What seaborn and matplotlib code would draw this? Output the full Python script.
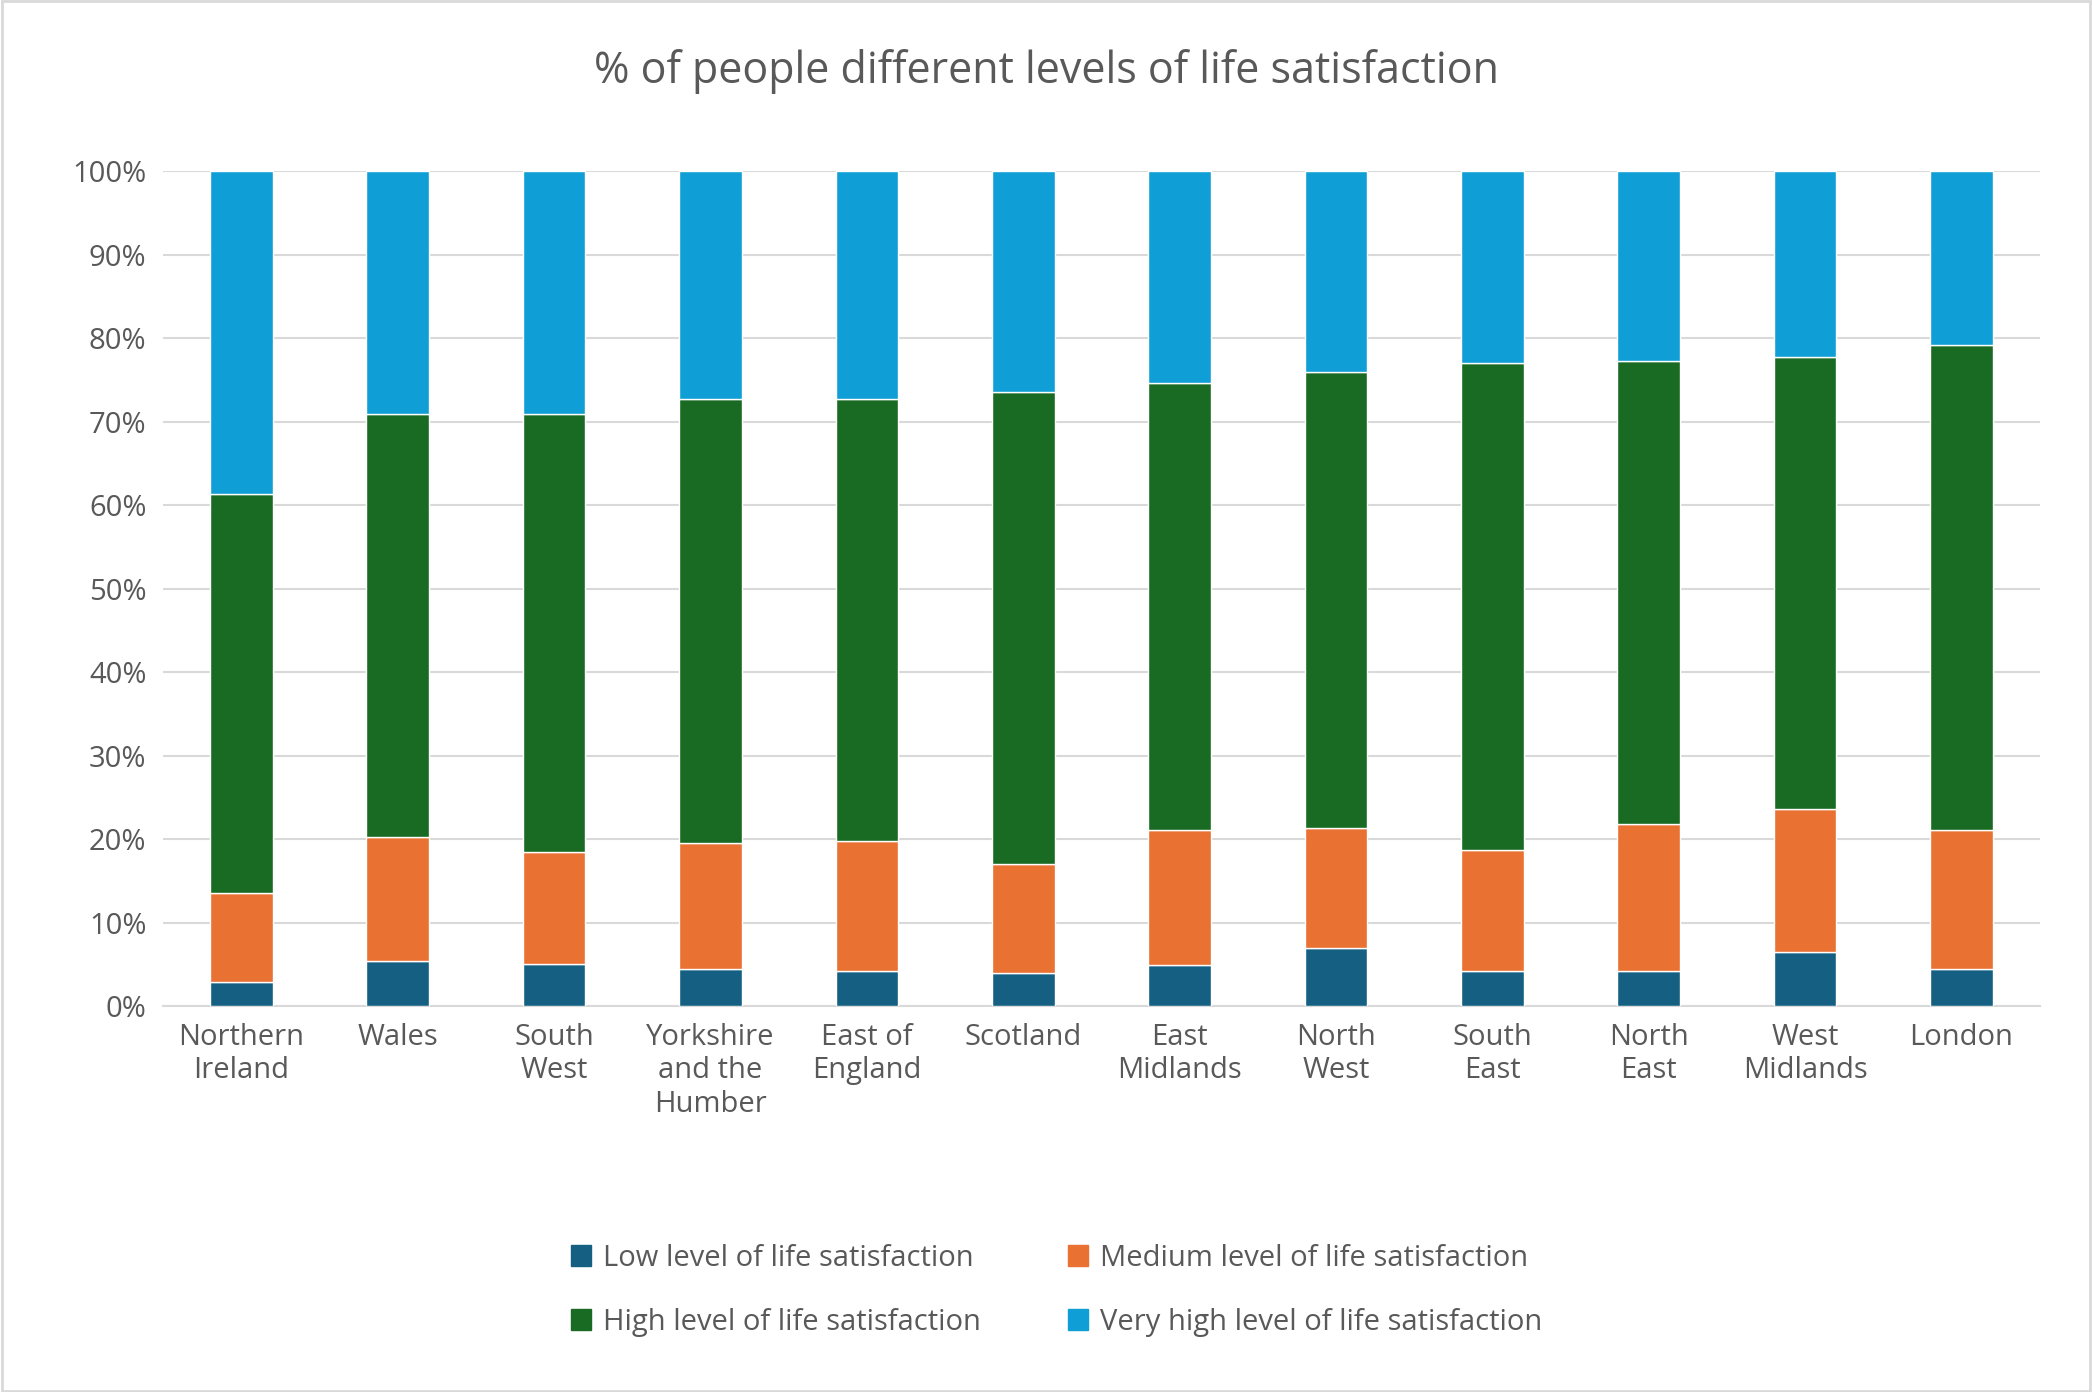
import matplotlib
matplotlib.use("Agg")
import matplotlib.pyplot as plt
import seaborn as sns
import pandas as pd
import numpy as np
from matplotlib.ticker import PercentFormatter
from matplotlib.patches import Patch, Rectangle

categories = ["Northern\nIreland", "Wales", "South\nWest", "Yorkshire\nand the\nHumber",
              "East of\nEngland", "Scotland", "East\nMidlands", "North\nWest", "South\nEast",
              "North\nEast", "West\nMidlands", "London"]
low = [2.9, 5.4, 5.1, 4.5, 4.2, 4.0, 5.0, 7.0, 4.2, 4.2, 6.5, 4.5]
medium = [10.7, 14.9, 13.4, 15.1, 15.6, 13.1, 16.1, 14.4, 14.5, 17.7, 17.1, 16.6]
high = [47.7, 50.6, 52.4, 53.1, 52.9, 56.5, 53.5, 54.5, 58.3, 55.4, 54.2, 58.1]
very_high = [38.7, 29.1, 29.1, 27.3, 27.3, 26.4, 25.4, 24.1, 23.0, 22.7, 22.2, 20.8]

series = ["Low level of life satisfaction", "Medium level of life satisfaction",
          "High level of life satisfaction", "Very high level of life satisfaction"]
colors = ["#156082", "#E97132", "#196B24", "#0F9ED5"]

sns.set_theme(style="white")
plt.rcParams["font.family"] = ["Open Sans", "DejaVu Sans"]

fig = plt.figure(figsize=(20.92, 13.92), dpi=100)
ax = fig.add_axes([0.078, 0.277, 0.897, 0.6])

bottom = np.zeros(len(categories))
for name, vals, c in zip(series, [low, medium, high, very_high], colors):
    df = pd.DataFrame({"cat": categories, "val": vals})
    sns.barplot(data=df, x="cat", y="val", color=c, bottom=bottom, width=0.4,
                ax=ax, saturation=1, zorder=3)
    bottom = bottom + np.array(vals)

ax.set_ylim(0, 100)
ax.set_xlim(-0.5, len(categories) - 0.5)
ax.set_yticks(np.arange(0, 101, 10))
ax.yaxis.set_major_formatter(PercentFormatter(decimals=0))
ax.grid(axis="y", color="#d9d9d9", linewidth=1.5, zorder=0)
ax.set_axisbelow(True)
for s in ["top", "right", "left"]:
    ax.spines[s].set_visible(False)
ax.spines["bottom"].set_color("#d9d9d9")
ax.spines["bottom"].set_linewidth(1.5)
ax.set_xlabel("")
ax.set_ylabel("")
ax.tick_params(axis="both", labelsize=21, colors="#595959", length=0, pad=12)
for t in ax.get_xticklabels():
    t.set_verticalalignment("top")

fig.suptitle("% of people different levels of life satisfaction", fontsize=31,
             color="#595959", y=0.965)

handles = [Patch(color=c) for c in colors]
order = [0, 2, 1, 3]
fig.legend([handles[i] for i in order], [series[i] for i in order], ncol=2,
           loc="center", bbox_to_anchor=(0.505, 0.073), frameon=False, fontsize=21,
           labelcolor="#595959", handlelength=0.7, handleheight=0.7,
           columnspacing=3, labelspacing=1.2, handletextpad=0.4)

fig.patches.append(Rectangle((0.001, 0.001), 0.998, 0.998, transform=fig.transFigure,
                             fill=False, edgecolor="#d9d9d9", linewidth=2))
fig.savefig("out.png", dpi=100)
